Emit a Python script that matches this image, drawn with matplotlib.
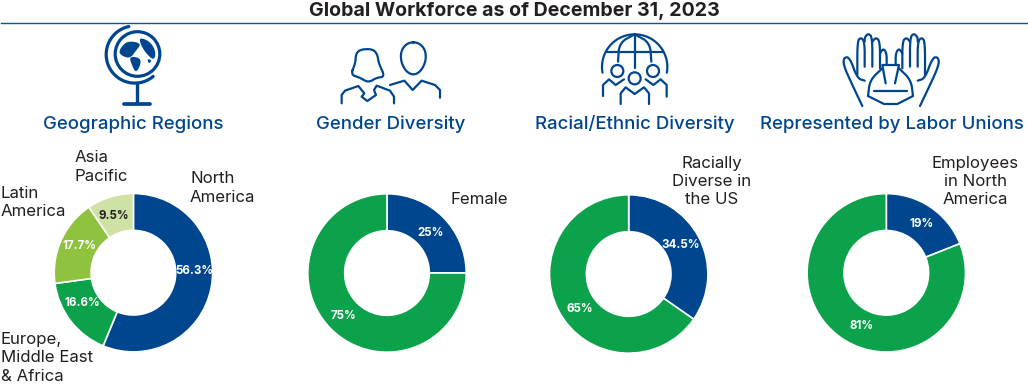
import numpy as np
import matplotlib
matplotlib.use('Agg')
import matplotlib.pyplot as plt
from matplotlib.patches import Circle, Polygon

# chart values
geo_values = [56.3, 16.6, 17.7, 9.5]
gender_values = [25, 75]
racial_values = [34.5, 65]
union_values = [19, 81]
section_titles = ['Geographic Regions', 'Gender Diversity', 'Racial/Ethnic Diversity', 'Represented by Labor Unions']

NAVY = '#00468e'
GREEN = '#0ca24b'
LIME = '#8fc23f'
PALE = '#cde2a4'
DARK = '#231f20'
W, H = 1028, 385

plt.rcParams['font.family'] = ['Inter', 'DejaVu Sans']

fig = plt.figure(figsize=(W / 100, H / 100), dpi=100)
fig.patch.set_facecolor('white')


def donut(values, colors, cx, cy, radius=79.2, inner=42.3):
    ax = fig.add_axes([(cx - radius) / W, 1 - (cy + radius) / H, 2 * radius / W, 2 * radius / H])
    ax.pie(values, colors=colors, startangle=90, counterclock=False, radius=1,
           wedgeprops={'width': 1 - inner / radius, 'edgecolor': 'white', 'linewidth': 1.2})
    ax.set_xlim(-1, 1)
    ax.set_ylim(-1, 1)
    ax.set_zorder(1)


donut(geo_values, [NAVY, GREEN, LIME, PALE], 133.4, 272.7)
donut(gender_values, [NAVY, GREEN], 387, 273)
donut(racial_values, [NAVY, GREEN], 628.7, 274)
donut(union_values, [NAVY, GREEN], 886.3, 272.8)

# overlay in pixel coordinates for text and icons
ov = fig.add_axes([0, 0, 1, 1], zorder=5)
ov.set_xlim(0, W)
ov.set_ylim(H, 0)
ov.axis('off')
ov.patch.set_alpha(0)

ov.text(514.5, 15.7, 'Global Workforce as of December 31, 2023', ha='center', va='baseline',
        fontsize=14.1, fontweight='bold', color=DARK)
ov.plot([1, 1028], [23.2, 23.2], color='#0b539f', lw=1.0)

for title, x in zip(section_titles, [133.5, 390.5, 634.5, 891.5]):
    ov.text(x, 129.3, title, ha='center', va='baseline', fontsize=13.4, fontweight='medium', color=NAVY)

# category labels
side_labels = [
    ('Asia\nPacific', 75, 180.7, 'left'),
    ('North\nAmerica', 190, 201.7, 'left'),
    ('Latin\nAmerica', 1, 216.3, 'left'),
    ('Europe,\nMiddle East\n& Africa', 1, 380.7, 'left'),
    ('Female', 450, 203.7, 'left'),
    ('Racially\nDiverse in\nthe US', 711.7, 204, 'center'),
    ('Employees\nin North\nAmerica', 975, 204, 'center'),
]
for txt, x, y, ha in side_labels:
    ov.text(x, y, txt, ha=ha, va='baseline', fontsize=12.1, color=DARK, linespacing=1.27, multialignment=ha)

# percent labels
pct_spots = [
    (geo_values[0], 194, 270.7, 'white'), (geo_values[1], 82, 303.3, 'white'),
    (geo_values[2], 79.3, 246.3, 'white'), (geo_values[3], 113.7, 216, DARK),
    (gender_values[0], 430.3, 232.7, 'white'), (gender_values[1], 343.3, 316.3, 'white'),
    (racial_values[0], 680.3, 245, 'white'), (racial_values[1], 580, 309, 'white'),
    (union_values[0], 921, 224, 'white'), (union_values[1], 862, 326, 'white'),
]
for val, x, y, col in pct_spots:
    ov.text(x, y, f'{val}%', ha='center', va='center', fontsize=8.3, fontweight='bold', color=col)


def chaikin(pts, n=2, closed=False):
    pts = np.array(pts, dtype=float)
    for _ in range(n):
        if closed:
            a, b = pts, np.roll(pts, -1, axis=0)
            mid = np.empty((2 * len(a), 2))
            mid[0::2] = 0.75 * a + 0.25 * b
            mid[1::2] = 0.25 * a + 0.75 * b
            pts = mid
        else:
            a, b = pts[:-1], pts[1:]
            mid = np.empty((2 * len(a), 2))
            mid[0::2] = 0.75 * a + 0.25 * b
            mid[1::2] = 0.25 * a + 0.75 * b
            pts = np.vstack([pts[0], mid, pts[-1]])
    return pts


# icon points are in 3x pixels, same scale as a zoomed crop
def line(pts, lw=1.6, smooth=False, closed=False):
    pts = chaikin(pts, closed=closed) if smooth else np.array(pts, dtype=float)
    if closed:
        pts = np.vstack([pts, pts[0]])
    ov.plot(pts[:, 0] / 3, pts[:, 1] / 3, color=NAVY, lw=lw, solid_capstyle='round', solid_joinstyle='round')


def arc(cx, cy, r, a0, a1, lw=1.6):
    t = np.radians(np.linspace(a0, a1, 80))
    ov.plot(cx + r * np.cos(t), cy + r * np.sin(t), color=NAVY, lw=lw, solid_capstyle='round')


# globe icon
ov.add_patch(Circle((137.5, 54), 22.3, fill=False, ec=NAVY, lw=2.3))
arc(134.8, 54.5, 28.6, 50, 258, lw=2.3)
ov.plot([136.7, 136.7], [83, 103.3], color=NAVY, lw=2.4)
ov.plot([124, 150], [103.5, 103.5], color=NAVY, lw=2.7, solid_capstyle='round')
for blob in [
    [(358, 148), (382, 122), (425, 130), (408, 152), (390, 176), (360, 165)],
    [(388, 168), (428, 176), (409, 222), (394, 192)],
    [(418, 112), (450, 124), (468, 155), (462, 182), (438, 160), (422, 134)],
    [(441, 177), (456, 180), (447, 192)],
]:
    ov.add_patch(Polygon(chaikin(blob, closed=True) / 3.0, closed=True, fc=NAVY, ec='none'))

# gender icon
line([(1052, 224), (1066, 190), (1068, 160), (1083, 148), (1117, 147), (1132, 162), (1136, 190), (1155, 230),
      (1130, 233), (1105, 248), (1080, 233)], smooth=True, closed=True)
line([(1025, 310), (1025, 285), (1035, 272), (1075, 258), (1093, 280), (1085, 290), (1102, 303), (1128, 285),
      (1122, 270), (1130, 257), (1170, 272), (1182, 290), (1182, 310)])
t = np.linspace(0, 2 * np.pi, 80)
ov.plot((1240 + 37 * np.sin(t) * (1 + 0.12 * np.cos(t))) / 3, (175 - 48 * np.cos(t)) / 3, color=NAVY, lw=1.6)
line([(1170, 255), (1213, 242), (1238, 270), (1265, 242), (1305, 255), (1320, 270), (1320, 293)])

# people under globe icon
ox = 514 * 3
arc((ox + 362) / 3, 201 / 3, 98 / 3, 170, 370)
line([(ox + 280, 155), (ox + 446, 155)])
line([(ox + 362, 103), (ox + 362, 205)])
line([(ox + 362, 103), (ox + 316, 128), (ox + 312, 185)], smooth=True)
line([(ox + 362, 103), (ox + 408, 128), (ox + 412, 185)], smooth=True)
for hx, hy in [(310, 213), (417, 213), (362, 235)]:
    ov.add_patch(Circle(((ox + hx) / 3, hy / 3), 18 / 3, fill=False, ec=NAVY, lw=1.6))
for part in [
    [(267, 288), (267, 255), (285, 238), (305, 255), (330, 238)],
    [(320, 312), (320, 280), (335, 262), (362, 282), (390, 262), (405, 280), (405, 312)],
    [(395, 238), (418, 255), (440, 238), (458, 255), (458, 290)],
]:
    line([(ox + x, y) for x, y in part])

# hands and hard hat icon
hand_parts = [
    [(1045, 318), (1015, 255), (988, 195), (990, 172), (1007, 172), (1030, 235), (1052, 242)],
    [(1030, 225), (1030, 125), (1040, 112), (1052, 125), (1052, 200)],
    [(1052, 125), (1052, 112), (1063, 100), (1075, 112), (1075, 200)],
    [(1075, 125), (1086, 112), (1098, 125), (1098, 205)],
    [(1098, 160), (1108, 145), (1118, 160), (1118, 195)],
]
for part in hand_parts:
    line([(ox + x, y) for x, y in part], smooth=True)
    line([(ox + 2263 - x, y) for x, y in part], smooth=True)
for part, sm in [
    ([(1062, 288), (1068, 240), (1105, 205)], True),
    ([(1197, 288), (1191, 240), (1155, 205)], True),
    ([(1062, 288), (1110, 312), (1150, 312), (1197, 288)], False),
    ([(1115, 250), (1105, 195), (1155, 195), (1143, 250)], False),
    ([(1080, 272), (1178, 272)], False),
]:
    line([(ox + x, y) for x, y in part], smooth=sm)

fig.savefig('out.png', dpi=100)
